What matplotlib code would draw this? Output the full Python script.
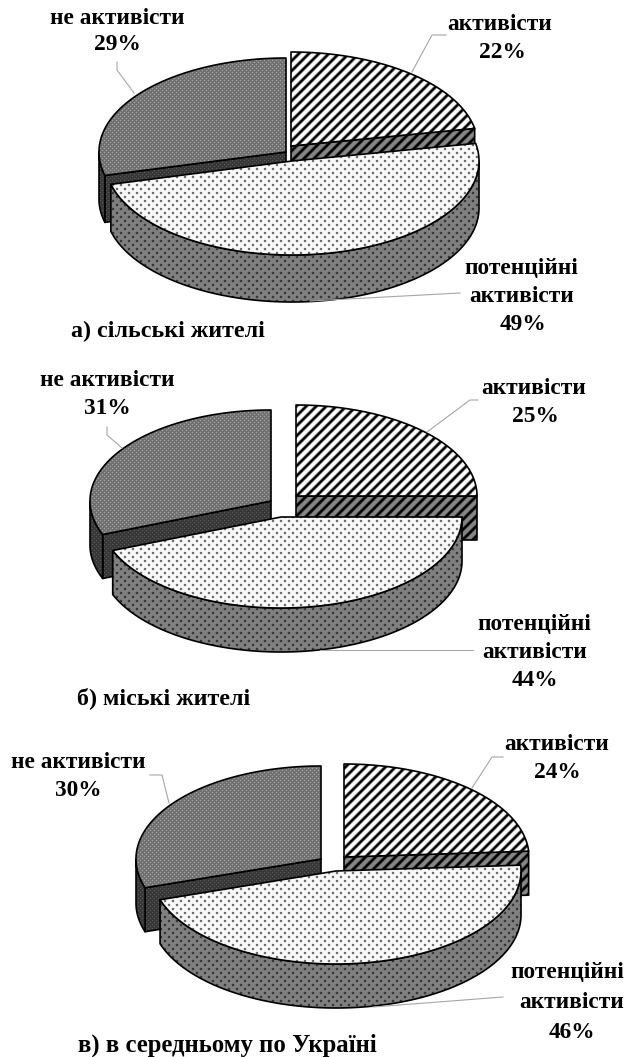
#!/usr/bin/env python3
"""Three exploded 3D pie charts: activity shares of the population."""

import numpy as np
import matplotlib
matplotlib.use("Agg")
import matplotlib.pyplot as plt
from matplotlib.patches import Polygon

WIDTH, HEIGHT = 628, 1057

# values, clockwise from 12 o'clock
CATEGORIES = ["активісти", "потенційні\nактивісти", "не активісти"]
RURAL_SHARES = [22, 49, 29]
URBAN_SHARES = [25, 44, 31]
AVERAGE_SHARES = [24, 46, 30]
TITLES = ["а) сільські жителі", "б) міські жителі", "в) в середньому по Україні"]

# layout in image pixels, one entry per chart
CHARTS = [
    {
        "shares": RURAL_SHARES, "title": TITLES[0], "title_xy": (168, 331), "title_size": 17.3,
        "rx": 187, "ry": 94, "depth": 47,
        "apex": [(291, 146), (292, 161), (286, 152)],
        "text": [(500, 24, 28), (522, 268, 28), (117, 18, 27)],
        "text_x": [(500, 502), (521, 522, 523), (117, 117)],
        "leaders": [[(412, 72), (432, 35), (446, 35)],
                    [(310, 301), (460, 293)],
                    [(134, 93), (117, 70), (117, 62)]],
    },
    {
        "shares": URBAN_SHARES, "title": TITLES[1], "title_xy": (164, 698), "title_size": 17.3,
        "rx": 181, "ry": 91, "depth": 44,
        "apex": [(296, 496), (281, 517), (271, 501)],
        "text": [(534, 388, 28), (534, 624, 28.5), (107, 381, 27)],
        "text_x": [(534, 535), (534, 535, 535), (107, 107)],
        "leaders": [[(427, 432), (470, 400), (478, 400)],
                    [(320, 650), (473, 650)],
                    [(122, 448), (107, 435), (107, 427)]],
    },
    {
        "shares": AVERAGE_SHARES, "title": TITLES[2], "title_xy": (227, 1045), "title_size": 17.8,
        "rx": 185, "ry": 93, "depth": 44,
        "apex": [(344, 857), (336, 871), (321, 859)],
        "text": [(557, 745, 28), (567, 972, 30), (78, 763, 27)],
        "text_x": [(557, 557), (567, 572, 572), (78, 78)],
        "leaders": [[(472, 788), (492, 757), (503, 757)],
                    [(373, 1007), (503, 997)],
                    [(169, 803), (162, 775), (150, 775)]],
    },
]

FONT = ["Liberation Serif", "DejaVu Serif"]
LABEL_SIZE = 16.8
LEADER_COLOR = "#a6a6a6"


def soften(img):
    # the reference is a slightly blurred scan
    out = img * 0.5
    for axis in (0, 1):
        out = out + 0.125 * (np.roll(img, 1, axis) + np.roll(img, -1, axis))
    return out


def stripes(base):
    yy, xx = np.mgrid[0:HEIGHT, 0:WIDTH]
    img = np.where((xx + yy) % 10 < 4, 0.0, base)
    return soften(img)


def dots(base, dot, step_x, step_y, size):
    yy, xx = np.mgrid[0:HEIGHT, 0:WIDTH]
    row = yy // step_y
    shifted = xx + (row % 2) * (step_x // 2)
    hit = (shifted % step_x < size) & (yy % step_y < size)
    img = np.where(hit, dot, base)
    return soften(img)


def arc(apex, rx, ry, t0, t1):
    t = np.radians(np.linspace(t0, t1, 200))
    return np.column_stack([apex[0] + rx * np.sin(t), apex[1] - ry * np.cos(t)])


def draw_shape(ax, pts, texture, order):
    patch = Polygon(pts, closed=True, facecolor="none", edgecolor="black",
                    linewidth=1.2, joinstyle="round", zorder=order + 0.5)
    ax.add_patch(patch)
    im = ax.imshow(texture, cmap="gray", vmin=0, vmax=1, extent=(0, WIDTH, HEIGHT, 0),
                   interpolation="nearest", aspect="auto", zorder=order)
    im.set_clip_path(patch)


def draw_wedge(ax, chart, idx, t0, t1, textures, order):
    rx, ry, depth = chart["rx"], chart["ry"], chart["depth"]
    apex = np.array(chart["apex"][idx], dtype=float)
    down = np.array([0, depth])
    face_tex, side_tex = textures

    shapes = []
    # cut face that looks towards the viewer
    if idx == 0:
        corner = arc(apex, rx, ry, t1, t1)[0]
        shapes.append((np.array([apex, corner, corner + down, apex + down]), side_tex))
    if idx == 2:
        corner = arc(apex, rx, ry, t0, t0)[0]
        shapes.append((np.array([apex, corner, corner + down, apex + down]), side_tex))
    # outer rim, only its front half can be seen
    lo, hi = max(t0, 90), min(t1, 270)
    if lo < hi:
        rim = arc(apex, rx, ry, lo, hi)
        shapes.append((np.vstack([rim, rim[::-1] + down]), side_tex))

    shapes.append((np.vstack([apex, arc(apex, rx, ry, t0, t1)]), face_tex))

    for pts, tex in shapes:
        draw_shape(ax, pts, tex, order)
        order += 1
    return order


def main():
    plt.rcParams["font.family"] = FONT

    fig = plt.figure(figsize=(WIDTH / 100, HEIGHT / 100), dpi=100, facecolor="white")
    ax = fig.add_axes([0, 0, 1, 1])

    textures = {
        0: (stripes(1.0), stripes(0.52)),
        1: (dots(0.98, 0.25, 8, 4, 2), dots(0.50, 0.12, 8, 4, 2)),
        2: (dots(0.42, 0.85, 4, 2, 1), dots(0.20, 0.50, 4, 2, 1)),
    }

    order = 1
    for chart in CHARTS:
        angles = np.cumsum([0] + chart["shares"]) * 3.6
        # inactive goes first, potential last: it sits in front of both others
        for idx in (2, 0, 1):
            order = draw_wedge(ax, chart, idx, angles[idx], angles[idx + 1],
                               textures[idx], order)

        for line in chart["leaders"]:
            xs, ys = zip(*line)
            ax.plot(xs, ys, color=LEADER_COLOR, linewidth=0.8, zorder=order)

        for i, name in enumerate(CATEGORIES):
            rows = name.split("\n") + [f"{chart['shares'][i]}%"]
            _, y0, gap = chart["text"][i]
            for j, row in enumerate(rows):
                ax.text(chart["text_x"][i][j], y0 + j * gap, row, ha="center", va="center",
                        fontsize=LABEL_SIZE, fontweight="bold", color="black", zorder=order)

        ax.text(*chart["title_xy"], chart["title"], ha="center", va="center",
                fontsize=chart["title_size"], fontweight="bold", color="black", zorder=order)

    ax.set_xlim(0, WIDTH)
    ax.set_ylim(HEIGHT, 0)
    ax.axis("off")
    fig.savefig("out.png", dpi=100, facecolor="white")


if __name__ == "__main__":
    main()
